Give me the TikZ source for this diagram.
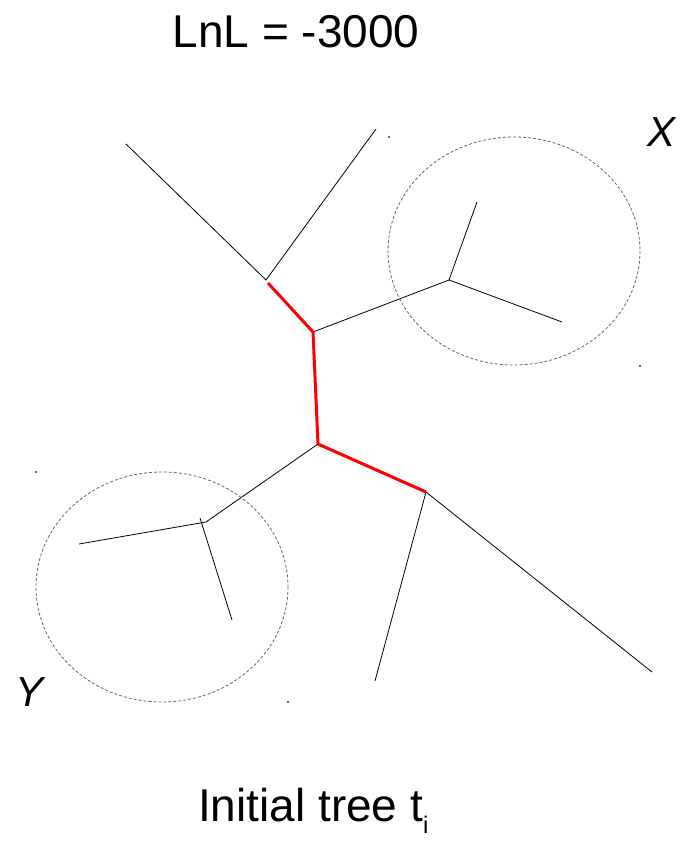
\documentclass[tikz,border=0pt]{standalone}
\usepackage{fontspec}
\setmainfont{Liberation Sans}
\usepackage{tikz}
\usetikzlibrary{positioning, calc}

\begin{document}
\begin{tikzpicture}[
  x=1pt, y=-1pt,
  branch/.style={black, line width=0.8pt},
  hot/.style={red, line width=3pt},
  subtree/.style={draw=black!60, dash pattern=on 3pt off 2pt, line width=0.8pt},
  corner/.style={fill=black!60, inner sep=0pt, minimum size=2pt},
  big/.style={font=\fontsize{46}{50}\selectfont, inner sep=0pt},
  tag/.style={font=\fontsize{42}{46}\selectfont\itshape, inner sep=0pt}
]
  \useasboundingbox (0,0) rectangle (681,842);

  % Inner nodes
  \coordinate (n1) at (266,280);
  \coordinate (n2) at (313,332);
  \coordinate (n3) at (318,444);
  \coordinate (n4) at (426,492);
  \coordinate (nx) at (449,280);
  \coordinate (ny) at (206,522);

  % Leaves
  \coordinate (l1) at (126,144);
  \coordinate (l2) at (376,129);
  \coordinate (lx1) at (477,202);
  \coordinate (lx2) at (562,322);
  \coordinate (ly1) at (79,544);
  \coordinate (ly2) at (200,518);
  \coordinate (ly3) at (232,620);
  \coordinate (l5) at (375,681);
  \coordinate (l6) at (652,672);

  % Black branches
  \draw[branch] (l1) -- (n1) -- (l2);
  \draw[branch] (n2) -- (nx);
  \draw[branch] (lx1) -- (nx) -- (lx2);
  \draw[branch] (n3) -- (ny) -- (ly1);
  \draw[branch] (ly2) -- (ly3);
  \draw[branch] (l5) -- (n4) -- (l6);

  % Red path
  \draw[hot] ([shift={(2,3)}]n1) -- (n2) -- (n3) -- (n4);

  % Subtrees X and Y
  \draw[subtree] (514,251) ellipse [x radius=126, y radius=114];
  \draw[subtree] (162,587) ellipse [x radius=126, y radius=115];
  \node[corner] (cx1) at (389,137) {};
  \node[corner] (cx2) at (640,366) {};
  \node[corner] (cy1) at (36,472) {};
  \node[corner] (cy2) at (288,702) {};

  % Labels
  \node[big] (lnl) at (296,32) {LnL = -3000};
  \node[tag] (X) at (661,132) {X};
  \node[tag] (Y) at (30,692) {Y};
  \node[big, anchor=base west] (cap) at (198,821) {Initial tree t\raisebox{-12pt}{\fontsize{24}{24}\selectfont i}};

\end{tikzpicture}
\end{document}
